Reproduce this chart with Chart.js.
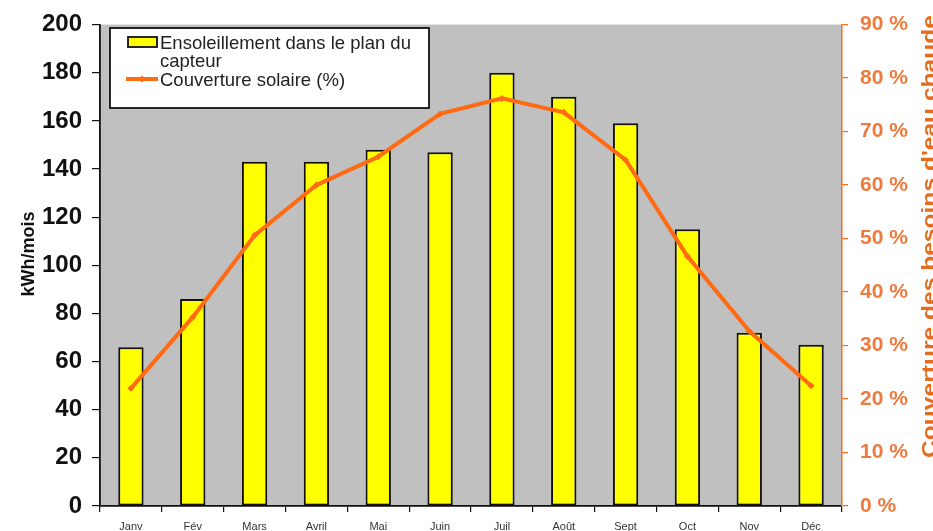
<!DOCTYPE html>
<html lang="fr">
<head>
<meta charset="utf-8">
<title>Ensoleillement et couverture solaire</title>
<script src="https://cdn.jsdelivr.net/npm/chart.js@4.4.1/dist/chart.umd.min.js"></script>
<style>
  html, body { margin: 0; padding: 0; background: #ffffff; }
  #wrap { width: 933px; height: 531px; position: relative; }
</style>
</head>
<body>
<div id="wrap"><canvas id="chart" width="933" height="531"></canvas></div>
<script>
// Mois
const months = ['Janv', 'Fév', 'Mars', 'Avril', 'Mai', 'Juin', 'Juil', 'Août', 'Sept', 'Oct', 'Nov', 'Déc'];
// Ensoleillement dans le plan du capteur (kWh/mois)
const sunshine = [66, 86, 143, 143, 148, 147, 180, 170, 159, 115, 72, 67];
// Couverture solaire (%)
const coverage = [22, 35.3, 50.6, 60, 65.3, 73.3, 76.2, 73.6, 64.7, 46.7, 32.7, 22.5];

const sunshineLabel = 'Ensoleillement dans le plan du capteur';
const coverageLabel = 'Couverture solaire (%)';
const leftTitle = 'kWh/mois';
const rightTitle = "Couverture des besoins d'eau chaude";

const ORANGE = '#ff6a13';
const ORANGE_TEXT = '#ee7a3c';
const FONT = 'Arial, "Liberation Sans", sans-serif';

// Gray plot background
const plotBackground = {
  id: 'plotBackground',
  beforeDraw(chart) {
    const { ctx, chartArea: a } = chart;
    ctx.save();
    ctx.fillStyle = '#c0c0c0';
    ctx.fillRect(a.left, a.top, a.right - a.left, a.bottom - a.top);
    ctx.restore();
  }
};

// Rotated axis titles
const axisTitles = {
  id: 'axisTitles',
  afterDraw(chart) {
    const { ctx } = chart;
    ctx.save();
    ctx.fillStyle = '#111111';
    ctx.font = 'bold 18px ' + FONT;
    ctx.textAlign = 'center';
    ctx.textBaseline = 'alphabetic';
    ctx.translate(34, 254);
    ctx.rotate(-Math.PI / 2);
    ctx.fillText(leftTitle, 0, 0);
    ctx.restore();

    ctx.save();
    ctx.fillStyle = '#e46c1c';
    ctx.font = 'bold 21px ' + FONT;
    ctx.textAlign = 'left';
    ctx.textBaseline = 'alphabetic';
    const w = ctx.measureText(rightTitle).width;
    ctx.translate(936, 458);
    ctx.rotate(-Math.PI / 2);
    ctx.scale(443 / w, 1);
    ctx.fillText(rightTitle, 0, 0);
    ctx.restore();
  }
};

// Boxed legend inside the plot
const boxLegend = {
  id: 'boxLegend',
  afterDraw(chart) {
    const { ctx } = chart;
    const x0 = 110, y0 = 28, x1 = 429, y1 = 108;
    ctx.save();
    ctx.fillStyle = '#ffffff';
    ctx.fillRect(x0, y0, x1 - x0, y1 - y0);
    ctx.strokeStyle = '#111111';
    ctx.lineWidth = 1.8;
    ctx.strokeRect(x0, y0, x1 - x0, y1 - y0);

    // bar entry swatch
    ctx.fillStyle = '#ffff00';
    ctx.fillRect(128, 37, 29, 10);
    ctx.strokeStyle = '#111111';
    ctx.lineWidth = 1.8;
    ctx.strokeRect(128, 37, 29, 10);

    // wrap bar label
    ctx.font = '18.5px ' + FONT;
    ctx.fillStyle = '#222222';
    ctx.textAlign = 'left';
    ctx.textBaseline = 'alphabetic';
    const words = sunshineLabel.split(' ');
    const lines = [];
    let cur = '';
    words.forEach(wd => {
      const t = cur ? cur + ' ' + wd : wd;
      if (ctx.measureText(t).width > 262 && cur) { lines.push(cur); cur = wd; }
      else cur = t;
    });
    if (cur) lines.push(cur);
    lines.forEach((ln, i) => ctx.fillText(ln, 160, 49 + i * 18));

    // line entry
    ctx.strokeStyle = ORANGE;
    ctx.lineWidth = 4;
    ctx.beginPath();
    ctx.moveTo(126, 79);
    ctx.lineTo(158, 79);
    ctx.stroke();
    ctx.fillStyle = ORANGE;
    ctx.beginPath();
    ctx.moveTo(142, 75.5); ctx.lineTo(145.5, 79); ctx.lineTo(142, 82.5); ctx.lineTo(138.5, 79);
    ctx.closePath(); ctx.fill();
    ctx.fillStyle = '#222222';
    ctx.fillText(coverageLabel, 160, 86);
    ctx.restore();
  }
};

new Chart(document.getElementById('chart'), {
  type: 'bar',
  data: {
    labels: months,
    datasets: [
      {
        type: 'line',
        label: coverageLabel,
        data: coverage,
        yAxisID: 'y1',
        borderColor: ORANGE,
        backgroundColor: ORANGE,
        borderWidth: 4,
        tension: 0,
        pointStyle: 'rectRot',
        pointRadius: 3.5,
        pointBackgroundColor: ORANGE,
        pointBorderWidth: 0,
        order: 0
      },
      {
        type: 'bar',
        label: sunshineLabel,
        data: sunshine,
        yAxisID: 'y',
        backgroundColor: '#ffff00',
        borderColor: '#111111',
        borderWidth: 2,
        borderSkipped: false,
        categoryPercentage: 1,
        barPercentage: 0.41,
        order: 1
      }
    ]
  },
  options: {
    responsive: false,
    animation: false,
    devicePixelRatio: 1,
    layout: { padding: { top: 20, bottom: 0, left: 0, right: 0 } },
    plugins: { legend: { display: false }, tooltip: { enabled: false }, title: { display: false } },
    scales: {
      x: {
        offset: true,
        grid: { display: true, drawOnChartArea: false, drawTicks: true, tickLength: 6, color: '#111111', offset: true, lineWidth: 1.2 },
        border: { display: true, color: '#111111', width: 1.8 },
        ticks: { color: '#333333', font: { family: FONT, size: 11 }, padding: 8, maxRotation: 0, autoSkip: false },
        afterFit(s) { s.height = 25; }
      },
      y: {
        position: 'left',
        min: 0, max: 200,
        ticks: { stepSize: 20, color: '#111111', font: { family: FONT, size: 24, weight: 'bold' }, padding: 10 },
        grid: { display: true, drawOnChartArea: false, drawTicks: true, tickLength: 8, color: '#111111', lineWidth: 1.2 },
        border: { display: true, color: '#111111', width: 1.8 },
        afterFit(s) { s.width = 100; }
      },
      y1: {
        position: 'right',
        min: 0, max: 90,
        ticks: { stepSize: 10, color: ORANGE_TEXT, font: { family: FONT, size: 21, weight: 'bold' }, padding: 12, callback: v => v + ' %' },
        grid: { display: true, drawOnChartArea: false, drawTicks: true, tickLength: 6, color: ORANGE, lineWidth: 1.2 },
        border: { display: true, color: ORANGE, width: 1.5 },
        afterFit(s) { s.width = 91; }
      }
    }
  },
  plugins: [plotBackground, axisTitles, boxLegend]
});
</script>
</body>
</html>
